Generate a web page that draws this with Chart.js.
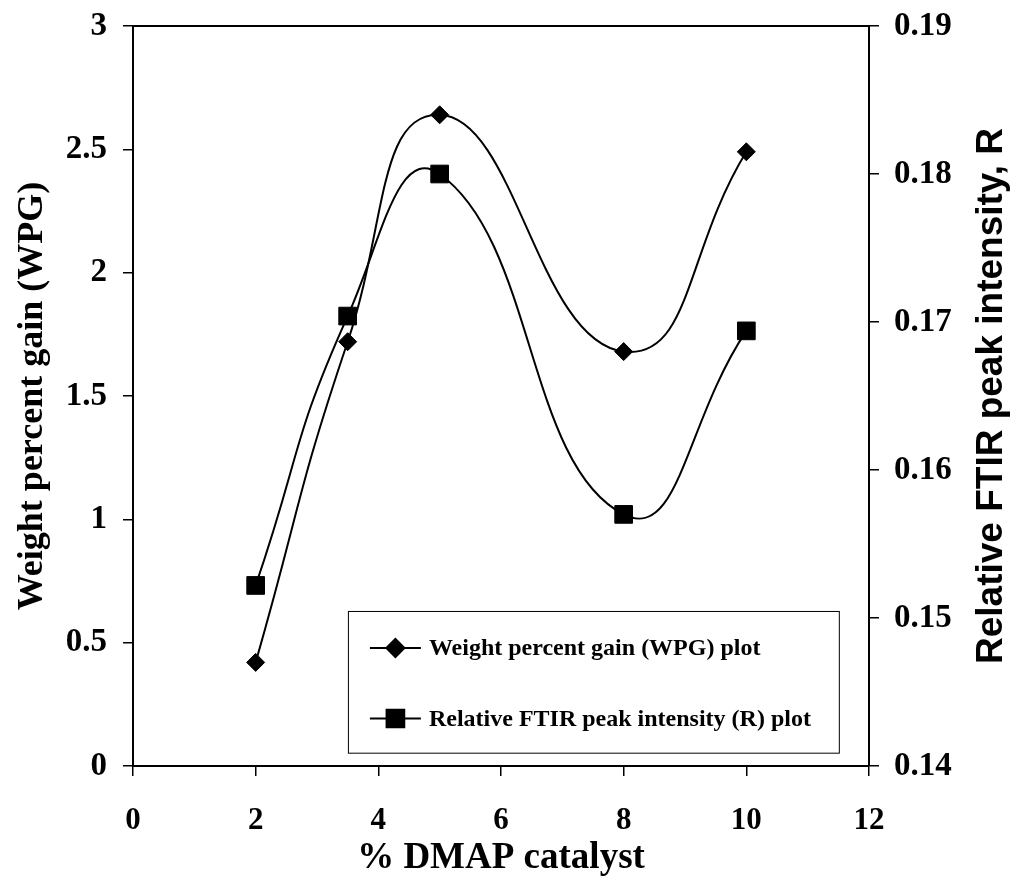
<!DOCTYPE html>
<html>
<head>
<meta charset="utf-8">
<script src="https://cdn.jsdelivr.net/npm/chart.js@4"></script>
<style>
  body { margin: 0; background: #fff; }
  canvas { display: block; }
</style>
</head>
<body>
<canvas id="chart" width="1016" height="884"></canvas>
<script>
// % DMAP catalyst vs WPG (left axis) and relative FTIR peak intensity R (right axis)
const dmap = [2, 3.5, 5, 8, 10];
const wpg = [0.42, 1.72, 2.64, 1.68, 2.49];
const ftirR = [0.1522, 0.1704, 0.1800, 0.1570, 0.1694];

const xTickLabels = ['0', '2', '4', '6', '8', '10', '12'];
const leftTickLabels = ['0', '0.5', '1', '1.5', '2', '2.5', '3'];
const rightTickLabels = ['0.14', '0.15', '0.16', '0.17', '0.18', '0.19'];

const seriesNames = ['Weight percent gain (WPG) plot', 'Relative FTIR peak intensity (R) plot'];

const serif = '"Liberation Serif", "Times New Roman", serif';
const sans = '"Liberation Sans", Arial, sans-serif';

function pts(xs, ys) {
    return xs.map((x, i) => ({ x, y: ys[i] }));
}

// fixed axis boxes, no extra label overflow padding
function fixBox(size, horizontal) {
    return s => {
        if (horizontal) s.height = size; else s.width = size;
        s.paddingTop = 0;
        s.paddingBottom = 0;
        s.paddingLeft = 0;
        s.paddingRight = 0;
    };
}

// frame on top of plot area + right title + legend box inside the plot
const extras = {
    id: 'extras',
    afterDraw(chart) {
        const { ctx, chartArea: a } = chart;
        ctx.save();
        // top frame line
        ctx.strokeStyle = '#000';
        ctx.lineWidth = 2;
        ctx.beginPath();
        ctx.moveTo(a.left, a.top);
        ctx.lineTo(a.right, a.top);
        ctx.stroke();

        // right axis title, reading bottom to top
        ctx.translate(992, (a.top + a.bottom) / 2);
        ctx.rotate(-Math.PI / 2);
        ctx.font = 'bold 37px ' + sans;
        ctx.fillStyle = '#000';
        ctx.textAlign = 'center';
        ctx.textBaseline = 'middle';
        ctx.fillText('Relative FTIR peak intensity, R', 0, 0);
        ctx.restore();

        // legend
        const w = a.right - a.left, h = a.bottom - a.top;
        const bx = a.left + 0.292 * w, by = a.top + 0.7905 * h;
        const bw = 0.667 * w, bh = 0.1915 * h;
        ctx.save();
        ctx.fillStyle = '#fff';
        ctx.fillRect(bx, by, bw, bh);
        ctx.strokeStyle = '#000';
        ctx.lineWidth = 1;
        ctx.strokeRect(bx + 0.5, by + 0.5, bw, bh);
        chart.data.datasets.forEach((ds, i) => {
            const ly = by + 37 + i * 70.5;
            ctx.strokeStyle = '#000';
            ctx.lineWidth = 2;
            ctx.beginPath();
            ctx.moveTo(bx + 22, ly);
            ctx.lineTo(bx + 73, ly);
            ctx.stroke();
            ctx.fillStyle = '#000';
            Chart.helpers.drawPoint(ctx, {
                pointStyle: ds.pointStyle,
                radius: ds.pointRadius,
                borderWidth: 1
            }, bx + 47.5, ly);
            ctx.fill();
            ctx.font = 'bold 24px ' + serif;
            ctx.textAlign = 'left';
            ctx.textBaseline = 'middle';
            ctx.fillText(ds.label, bx + 81, ly + 1);
        });
        ctx.restore();
    }
};

new Chart(document.getElementById('chart'), {
    type: 'line',
    data: {
        datasets: [{
            label: seriesNames[0],
            data: pts(dmap, wpg),
            yAxisID: 'y',
            borderColor: '#000',
            backgroundColor: '#000',
            borderWidth: 2,
            pointStyle: 'rectRot',
            pointRadius: 9,
            pointBorderWidth: 1,
            tension: 0.5,
            fill: false
        }, {
            label: seriesNames[1],
            data: pts(dmap, ftirR),
            yAxisID: 'y1',
            borderColor: '#000',
            backgroundColor: '#000',
            borderWidth: 2,
            pointStyle: 'rect',
            pointRadius: 12.5,
            pointBorderWidth: 1,
            tension: 0.5,
            fill: false
        }]
    },
    options: {
        responsive: false,
        animation: false,
        devicePixelRatio: 1,
        layout: { padding: { top: 26, left: 0, right: 0, bottom: 0 } },
        plugins: {
            legend: { display: false },
            tooltip: { enabled: false }
        },
        scales: {
            x: {
                type: 'linear',
                min: 0,
                max: 12,
                ticks: {
                    stepSize: 2,
                    padding: 26,
                    color: '#000',
                    font: { family: serif, size: 31, weight: 'bold' },
                    callback: (v, i) => xTickLabels[i]
                },
                grid: { drawOnChartArea: false, tickLength: 10, color: '#000', lineWidth: 1.5 },
                border: { color: '#000', width: 2 },
                title: {
                    display: true,
                    text: '% DMAP catalyst',
                    color: '#000',
                    font: { family: serif, size: 37, weight: 'bold' },
                    padding: { top: 0, bottom: 3 }
                },
                afterFit: fixBox(118, true)
            },
            y: {
                position: 'left',
                min: 0,
                max: 3,
                ticks: {
                    stepSize: 0.5,
                    padding: 16,
                    color: '#000',
                    font: { family: serif, size: 33, weight: 'bold' },
                    callback: (v, i) => leftTickLabels[i]
                },
                grid: { drawOnChartArea: false, tickLength: 10, color: '#000', lineWidth: 1.5 },
                border: { color: '#000', width: 2 },
                title: {
                    display: true,
                    text: 'Weight percent gain (WPG)',
                    color: '#000',
                    font: { family: serif, size: 36, weight: 'bold' },
                    padding: { top: 11, bottom: 0 }
                },
                afterFit: fixBox(133, false)
            },
            y1: {
                position: 'right',
                min: 0.14,
                max: 0.19,
                ticks: {
                    stepSize: 0.01,
                    padding: 15,
                    color: '#000',
                    font: { family: serif, size: 33, weight: 'bold' },
                    callback: (v, i) => rightTickLabels[i]
                },
                grid: { drawOnChartArea: false, tickLength: 10, color: '#000', lineWidth: 1.5 },
                border: { color: '#000', width: 2 },
                afterFit: fixBox(147, false)
            }
        }
    },
    plugins: [extras]
});
</script>
</body>
</html>
